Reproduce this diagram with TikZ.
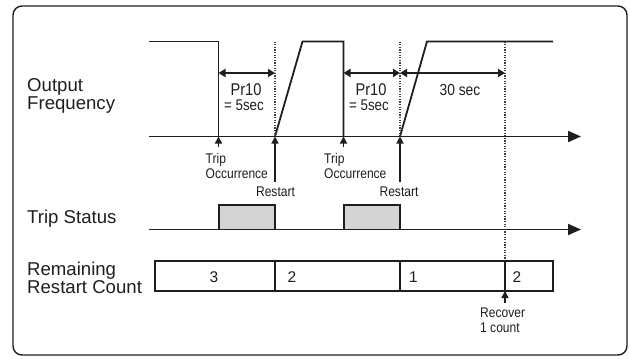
\documentclass[tikz,border=0pt]{standalone}
\usepackage{fontspec}
\setmainfont{Liberation Sans}
\newfontfamily\condf[FakeStretch=0.86]{Liberation Sans}
\usetikzlibrary{arrows.meta}
\definecolor{ink}{HTML}{1E1E1E}
\definecolor{tripfill}{HTML}{D4D4D4}
\begin{document}
\begin{tikzpicture}[x=1pt,y=-1pt,
  sig/.style={line width=1.8pt, draw=ink, line join=miter},
  dotv/.style={line width=1.6pt, draw=ink!85, dash pattern=on 1.3pt off 1.3pt},
  axis/.style={line width=1.8pt, draw=ink, -{Triangle[length=13pt,width=11pt]}},
  dimarr/.style={line width=1.8pt, draw=ink, {Triangle[length=7pt,width=8pt]}-{Triangle[length=7pt,width=8pt]}},
  uparr/.style={line width=1.5pt, draw=ink, -{Triangle[length=7pt,width=7pt]}},
  boxline/.style={line width=1.6pt, draw=ink},
  biglab/.style={font=\fontsize{18.6}{20}\selectfont, text=ink, anchor=base west, inner sep=0pt},
  smlab/.style={font=\condf\fontsize{14}{16}\selectfont, text=ink, inner sep=0pt},
  midlab/.style={font=\condf\fontsize{17}{19}\selectfont, text=ink, inner sep=0pt, anchor=base},
  eqlab/.style={font=\condf\fontsize{15.5}{17}\selectfont, text=ink, inner sep=0pt, anchor=base},
  numlab/.style={font=\fontsize{15.5}{17}\selectfont, text=ink, inner sep=0pt, anchor=base west}
]
\useasboundingbox (0,0) rectangle (630,359);
% outer frame
\draw[line width=1.4pt, draw=ink, rounded corners=9pt] (13,6) rectangle (627,355);

% left labels
\node[biglab] (lOut) at (27,91) {Output};
\node[biglab] (lFreq) at (27,109.5) {Frequency};
\node[biglab] (lTrip) at (27,223.5) {Trip Status};
\node[biglab] (lRem) at (27,275) {Remaining};
\node[biglab] (lCnt) at (27,293.5) {Restart Count};

% key coordinates
\coordinate (fs) at (149,136.5);
\coordinate (fe) at (581,136.5);
\coordinate (t1) at (218.5,136.5);
\coordinate (r1) at (275,136.5);
\coordinate (t2) at (343.5,136.5);
\coordinate (r2) at (400,136.5);
\coordinate (rc) at (505,136.5);

% output frequency axis
\draw[axis] (fs) -- (fe);
% signal
\draw[sig] (149,41.5) -- (218.5,41.5) -- (t1);
\draw[sig] (r1) -- (302.5,41.5) -- (343.5,41.5) -- (t2);
\draw[sig] (r2) -- (427,41.5) -- (553,41.5);

% dotted verticals
\coordinate (d1) at (275,41.5);
\coordinate (d2) at (400,41.5);
\coordinate (d3) at (505,41.5);
\coordinate (d3b) at (505,261);
\draw[dotv] (d1) -- (r1);
\draw[dotv] (d2) -- (r2);
\draw[dotv] (d3) -- (d3b);

% dimension arrows
\coordinate (a1) at (218.5,73);
\coordinate (a2) at (275,73);
\coordinate (a3) at (343.5,73);
\coordinate (a4) at (400,73);
\coordinate (a5) at (505,73);
\draw[dimarr] (a1) -- (a2);
\draw[dimarr] (a3) -- (a4);
\draw[dimarr] (a4) -- (a5);

\node[midlab] (p1a) at (246,95) {Pr10};
\node[eqlab] (p1b) at (244,110) {= 5sec};
\node[midlab] (p2a) at (371,95) {Pr10};
\node[eqlab] (p2b) at (369,110) {= 5sec};
\node[midlab, font=\condf\fontsize{16}{18}\selectfont] (p3) at (460,95) {30 sec};

% event arrows
\coordinate (t1s) at (218.5,147);
\coordinate (t2s) at (343.5,147);
\coordinate (r1s) at (275,182);
\coordinate (r2s) at (400,182);
\draw[uparr] (t1s) -- (t1);
\draw[uparr] (t2s) -- (t2);
\draw[uparr] (r1s) -- (r1);
\draw[uparr] (r2s) -- (r2);

\node[smlab, anchor=base west] (tr1a) at (205.5,163.5) {Trip};
\node[smlab, anchor=base west] (tr1b) at (205.5,178.5) {Occurrence};
\node[smlab, anchor=base west] (tr2a) at (324,163.5) {Trip};
\node[smlab, anchor=base west] (tr2b) at (324,178.5) {Occurrence};
\node[smlab, anchor=base] (rs1) at (275.5,196.5) {Restart};
\node[smlab, anchor=base] (rs2) at (399,196.5) {Restart};

% trip status
\draw[fill=tripfill, boxline] (219,229.5) -- (219,205) -- (275,205) -- (275,229.5);
\draw[fill=tripfill, boxline] (344,229.5) -- (344,205) -- (400,205) -- (400,229.5);
\coordinate (ts) at (149,229.5);
\coordinate (te) at (581,229.5);
\draw[axis] (ts) -- (te);

% remaining restart count
\draw[boxline] (155,261) rectangle (553,291);
\draw[boxline] (275,261) -- (275,291);
\draw[boxline] (400,261) -- (400,291);
\draw[boxline] (d3b) -- (505,291);
\node[numlab, anchor=base] (n3) at (214,282) {3};
\node[numlab] (n2) at (287.5,282) {2};
\node[numlab] (n1) at (409,282) {1};
\node[numlab] (n2b) at (512.5,282) {2};

\coordinate (rcb) at (505,291);
\coordinate (rcs) at (505,303);
\draw[uparr] (rcs) -- (rcb);
\node[smlab, anchor=base west] (rv1) at (480,317.5) {Recover};
\node[smlab, anchor=base west] (rv2) at (480,332) {1 count};
\end{tikzpicture}
\end{document}
